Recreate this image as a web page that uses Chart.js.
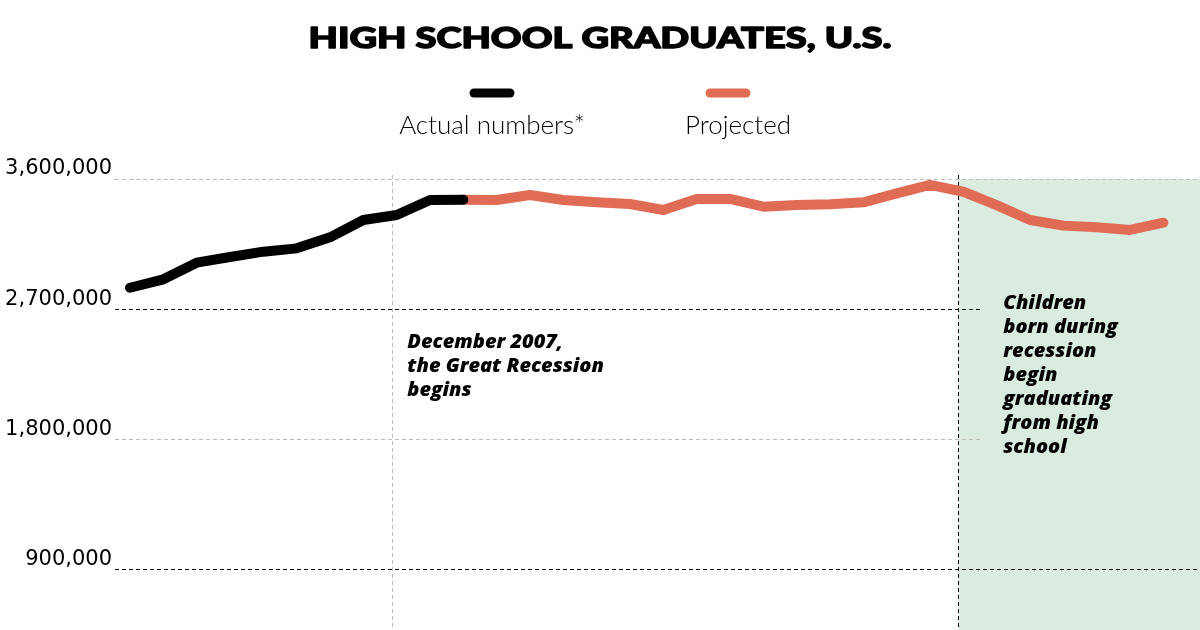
<!DOCTYPE html>
<html>
<head>
<meta charset="utf-8">
<script src="https://cdn.jsdelivr.net/npm/chart.js@4"></script>
<style>
  html, body { margin: 0; padding: 0; background: #fff; overflow: hidden; }
</style>
</head>
<body>
<canvas id="gradChart" width="1200" height="630"></canvas>
<script>
// graduates per school year
const actualYears = [2000, 2001, 2002, 2003, 2004, 2005, 2006, 2007, 2008, 2009, 2010];
const actualValues = [2849000, 2907000, 3022000, 3061000, 3098000, 3121000, 3197000, 3317000, 3351000, 3455000, 3457000];
const projectedYears = [2010, 2011, 2012, 2013, 2014, 2015, 2016, 2017, 2018, 2019, 2020,
  2021, 2022, 2023, 2024, 2025, 2026, 2027, 2028, 2029, 2030, 2031];
const projectedValues = [3457000, 3455000, 3489000, 3455000, 3439000, 3427000, 3386000, 3462000, 3462000, 3409000, 3420000,
  3425000, 3439000, 3501000, 3559000, 3512000, 3420000, 3317000, 3278000, 3266000, 3248000, 3298000];
const yTicks = [900000, 1800000, 2700000, 3600000];
const recessionStart = 2007.87;
const recessionKids = 2024.85;

const chartTitle = "HIGH SCHOOL GRADUATES, U.S.";
const recessionNote = ["December 2007,", "the Great Recession", "begins"];
const kidsNote = ["Children", "born during", "recession", "begin", "graduating", "from high", "school"];

const BLACK = "#000000";
const ORANGE = "#e06c56";
const GREEN = "#d9ecdf";

const toPoints = (xs, ys) => xs.map((x, i) => ({ x: x, y: ys[i] }));

// draws heavy text stretched to a given width
function fitText(ctx, text, x, y, width) {
  const w = ctx.measureText(text).width;
  ctx.save();
  ctx.translate(x, y);
  ctx.scale(width / w, 1);
  ctx.lineWidth = 1.4;
  ctx.strokeStyle = ctx.fillStyle;
  ctx.lineJoin = "round";
  ctx.strokeText(text, 0, 0);
  ctx.fillText(text, 0, 0);
  ctx.restore();
}

const overlays = {
  id: "overlays",
  beforeDraw(chart) {
    const { ctx, chartArea, scales } = chart;
    const gx = scales.x.getPixelForValue(recessionKids);
    ctx.save();
    ctx.fillStyle = GREEN;
    ctx.fillRect(gx, chartArea.top, chartArea.right - gx, chartArea.bottom - chartArea.top);
    ctx.restore();
  },
  beforeDatasetsDraw(chart) {
    const { ctx, chartArea, scales } = chart;
    ctx.save();
    ctx.lineWidth = 1;
    ctx.setLineDash([4, 3]);
    const rx = Math.round(scales.x.getPixelForValue(recessionStart)) + 0.5;
    ctx.strokeStyle = "#bdbdbd";
    ctx.beginPath();
    ctx.moveTo(rx, chartArea.top - 4);
    ctx.lineTo(rx, chartArea.bottom);
    ctx.stroke();
    const gx = Math.round(scales.x.getPixelForValue(recessionKids)) + 0.5;
    ctx.strokeStyle = BLACK;
    ctx.beginPath();
    ctx.moveTo(gx, chartArea.top - 4);
    ctx.lineTo(gx, chartArea.bottom);
    ctx.stroke();
    ctx.restore();
  },
  afterDraw(chart) {
    const { ctx, chartArea, scales } = chart;
    ctx.save();
    // title
    ctx.fillStyle = BLACK;
    ctx.textAlign = "center";
    ctx.textBaseline = "middle";
    ctx.font = "900 29px Lato";
    fitText(ctx, chartTitle, 600, 39, 583);

    // legend: short stroke above each label
    const items = [
      { label: chart.data.datasets[0].label, color: BLACK, lx: 492, tx: 492 },
      { label: chart.data.datasets[1].label, color: ORANGE, lx: 728, tx: 738 }
    ];
    ctx.lineCap = "round";
    ctx.lineWidth = 9;
    ctx.font = "300 26px Lato";
    items.forEach((it) => {
      ctx.strokeStyle = it.color;
      ctx.beginPath();
      ctx.moveTo(it.lx - 18, 93);
      ctx.lineTo(it.lx + 18, 93);
      ctx.stroke();
      ctx.fillStyle = BLACK;
      ctx.fillText(it.label, it.tx, 126);
    });

    // annotations
    ctx.textAlign = "left";
    ctx.font = "italic 800 20px 'Open Sans'";
    const rx = scales.x.getPixelForValue(recessionStart);
    recessionNote.forEach((line, i) => ctx.fillText(line, rx + 15, 342 + i * 24));

    const gx = scales.x.getPixelForValue(recessionKids);
    ctx.fillStyle = GREEN;
    ctx.fillRect(gx + 22, 290, chartArea.right - gx - 22, 172);
    ctx.fillStyle = BLACK;
    kidsNote.forEach((line, i) => ctx.fillText(line, gx + 45, 303 + i * 24));
    ctx.restore();
  }
};

new Chart(document.getElementById("gradChart"), {
  type: "line",
  data: {
    datasets: [
      {
        label: "Actual numbers*",
        data: toPoints(actualYears, actualValues),
        borderColor: BLACK,
        borderWidth: 10,
        borderCapStyle: "round",
        borderJoinStyle: "round",
        pointRadius: 0,
        tension: 0
      },
      {
        label: "Projected",
        data: toPoints(projectedYears, projectedValues),
        borderColor: ORANGE,
        borderWidth: 10,
        borderCapStyle: "round",
        borderJoinStyle: "round",
        pointRadius: 0,
        tension: 0
      }
    ]
  },
  options: {
    responsive: false,
    devicePixelRatio: 1,
    animation: false,
    layout: { padding: { top: 179, left: 0, right: 0, bottom: 0 } },
    plugins: {
      legend: { display: false },
      title: { display: false },
      tooltip: { enabled: false }
    },
    scales: {
      x: {
        type: "linear",
        display: false,
        min: 1999.55,
        max: 2032.1
      },
      y: {
        min: 485000,
        max: 3600000,
        afterBuildTicks: (scale) => {
          scale.ticks = yTicks.map((v) => ({ value: v }));
        },
        afterFit: (scale) => {
          scale.width = 115;
          scale.paddingTop = 0;
          scale.paddingBottom = 0;
        },
        border: { display: false, dash: [4, 3] },
        grid: {
          drawTicks: false,
          lineWidth: 1,
          color: (c) => (c.tick && (c.tick.value === 2700000 || c.tick.value === 900000) ? BLACK : "#bdbdbd")
        },
        ticks: {
          padding: 3,
          labelOffset: -10,
          color: BLACK,
          font: { family: "'DejaVu Sans'", size: 21, weight: "normal" },
          callback: (v) => v.toLocaleString("en-US")
        }
      }
    }
  },
  plugins: [overlays]
});
</script>
</body>
</html>
